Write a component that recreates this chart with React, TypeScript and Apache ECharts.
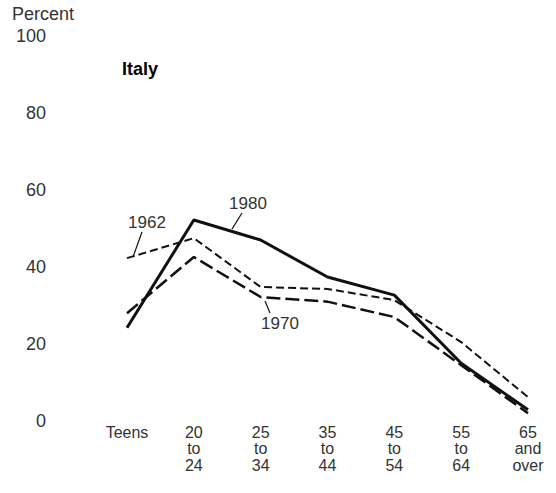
import React, { useEffect, useRef } from "react";
import * as echarts from "echarts";

const categories = ["Teens", "20\nto\n24", "25\nto\n34", "35\nto\n44", "45\nto\n54", "55\nto\n64", "65\nand\nover"];
const yTicks = [0, 20, 40, 60, 80, 100];
const values1962 = [42.3, 47.5, 34.8, 34.3, 31.4, 20.5, 6.2];
const values1970 = [28, 42.6, 32.2, 31, 27, 14.5, 2];
const values1980 = [24.2, 52.2, 47, 37.4, 32.7, 15, 2.9];

const FONT = "'Liberation Sans', Arial, sans-serif";
const INK = "#111";
const TXT = "#333";

export default function App() {
  const ref = useRef<HTMLDivElement>(null);
  useEffect(() => {
    if (!ref.current) return;
    const chart = echarts.init(ref.current, null, { renderer: "svg" });
    chart.setOption({
      animation: false,
      backgroundColor: "#ffffff",
      grid: { left: 127, right: 28, top: 36, bottom: 72, containLabel: false },
      xAxis: {
        type: "category",
        data: categories,
        boundaryGap: false,
        axisLine: { show: false },
        axisTick: { show: false },
        splitLine: { show: false },
        axisLabel: {
          interval: 0,
          margin: 3,
          color: TXT,
          fontFamily: FONT,
          fontSize: 16,
          lineHeight: 16.5,
          verticalAlign: "top",
        },
      },
      yAxis: {
        type: "value",
        min: 0,
        max: 100,
        interval: 20,
        axisLine: { show: false },
        axisTick: { show: false },
        splitLine: { show: false },
        axisLabel: {
          margin: 81,
          color: TXT,
          fontFamily: FONT,
          fontSize: 18,
          formatter: (v: number) => (yTicks.includes(v) ? String(v) : ""),
        },
      },
      series: [
        {
          name: "1962",
          type: "line",
          data: values1962,
          symbol: "none",
          lineStyle: { color: INK, width: 2, type: [8, 4] },
        },
        {
          name: "1970",
          type: "line",
          data: values1970,
          symbol: "none",
          lineStyle: { color: INK, width: 2.5, type: [14, 5] },
        },
        {
          name: "1980",
          type: "line",
          data: values1980,
          symbol: "none",
          lineStyle: { color: INK, width: 3 },
        },
      ],
      graphic: [
        {
          type: "text",
          x: 12,
          y: 5,
          style: { text: "Percent", fill: TXT, font: `18px ${FONT}` },
        },
        {
          type: "text",
          x: 122,
          y: 60,
          style: { text: "Italy", fill: "#000", font: `900 18px ${FONT}` },
        },
        {
          type: "text",
          x: 147,
          y: 222,
          style: { text: "1962", fill: TXT, font: `17px ${FONT}`, align: "center", verticalAlign: "middle" },
        },
        {
          type: "line",
          shape: { x1: 142, y1: 232, x2: 133, y2: 257 },
          style: { stroke: INK, lineWidth: 1.2 },
        },
        {
          type: "text",
          x: 248,
          y: 203,
          style: { text: "1980", fill: TXT, font: `17px ${FONT}`, align: "center", verticalAlign: "middle" },
        },
        {
          type: "line",
          shape: { x1: 242, y1: 213, x2: 232, y2: 229 },
          style: { stroke: INK, lineWidth: 1.2 },
        },
        {
          type: "text",
          x: 280,
          y: 323,
          style: { text: "1970", fill: TXT, font: `17px ${FONT}`, align: "center", verticalAlign: "middle" },
        },
        {
          type: "line",
          shape: { x1: 265, y1: 301, x2: 270, y2: 313 },
          style: { stroke: INK, lineWidth: 1.2 },
        },
      ],
    });
    return () => chart.dispose();
  }, []);
  return (
    <div
      ref={ref}
      style={{ position: "fixed", left: 0, top: 0, width: 556, height: 493 }}
    />
  );
}
